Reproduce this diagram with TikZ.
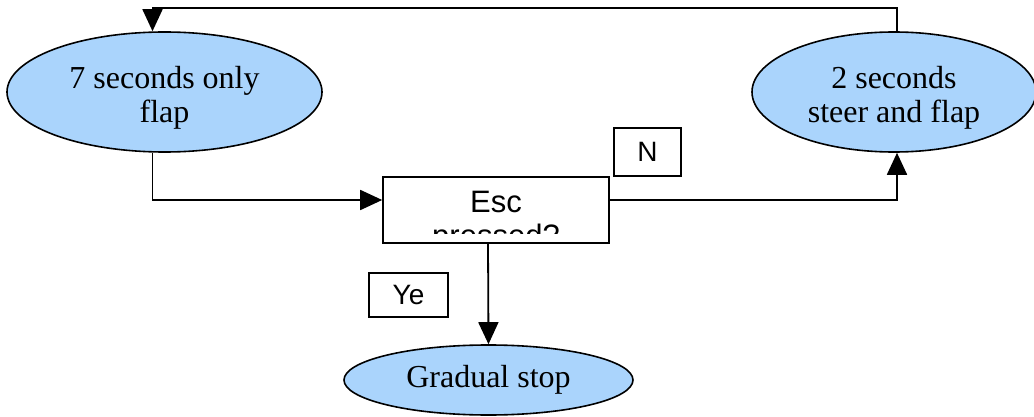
\documentclass[tikz,border=0pt]{standalone}
\usepackage{fontspec}
\setmainfont{Liberation Serif}
\setsansfont{Liberation Sans}
\usetikzlibrary{positioning,shapes.geometric,arrows.meta}
\definecolor{flapblue}{RGB}{170,212,252}

\tikzset{
	state/.style={ellipse, draw, line width=0.8pt, fill=flapblue, inner sep=0pt},
	statetext/.style={align=center, inner sep=0pt, font=\fontsize{16}{17}\selectfont},
	arr/.style={line width=0.9pt, -{Triangle[length=11pt,width=10pt]}},
	tag/.style={rectangle, draw, line width=0.8pt, font=\sffamily\fontsize{14}{16}\selectfont}
}

\begin{document}
\begin{tikzpicture}[x=0.5pt, y=-0.5pt]
	\useasboundingbox (0,0) rectangle (1034,417);

	\node[state, minimum width=157.5pt, minimum height=60pt] (sec7) at (164.5,92) {};
	\node[statetext] (sec7text) at ([yshift=-3pt]sec7.center) {7 seconds only\\flap};
	\node[state, minimum width=142pt, minimum height=60pt] (sec2) at (894,92) {};
	\node[statetext] (sec2text) at ([yshift=-3pt]sec2.center) {2 seconds\\steer and flap};
	\node[state, minimum width=144.5pt, minimum height=35pt, font=\fontsize{16}{17}\selectfont] (stop) at (488.5,380) {Gradual stop};

	\node[rectangle, draw, line width=0.8pt, minimum width=113pt, minimum height=33pt] (esc) at (496,210) {};
	\node[anchor=base, font=\sffamily\fontsize{15.5}{17}\selectfont] (esclabel) at (496,213) {Esc};
	\begin{scope}
		\clip (384,178) rectangle (608,233);
		\node[anchor=base, font=\sffamily\fontsize{15.5}{17}\selectfont] (pressed) at (496,246) {pressed?};
	\end{scope}

	\node[tag, minimum width=33.5pt, minimum height=24pt] (no) at (647.5,152) {N};
	\node[tag, minimum width=39.5pt, minimum height=22pt] (yes) at (408.5,295) {Ye};

	\coordinate (loop) at (500,8);

	\draw[arr] ([xshift=-6pt]sec7.south) |- ([yshift=5pt]esc.west);
	\draw[arr] ([yshift=5pt]esc.east) -| ([xshift=1.5pt]sec2.south);
	\draw[arr] ([xshift=1.5pt]sec2.north) |- (loop) -| ([xshift=-6pt]sec7.north);
	\draw[arr] ([xshift=-4pt]esc.south) -- (stop.north);
\end{tikzpicture}
\end{document}
